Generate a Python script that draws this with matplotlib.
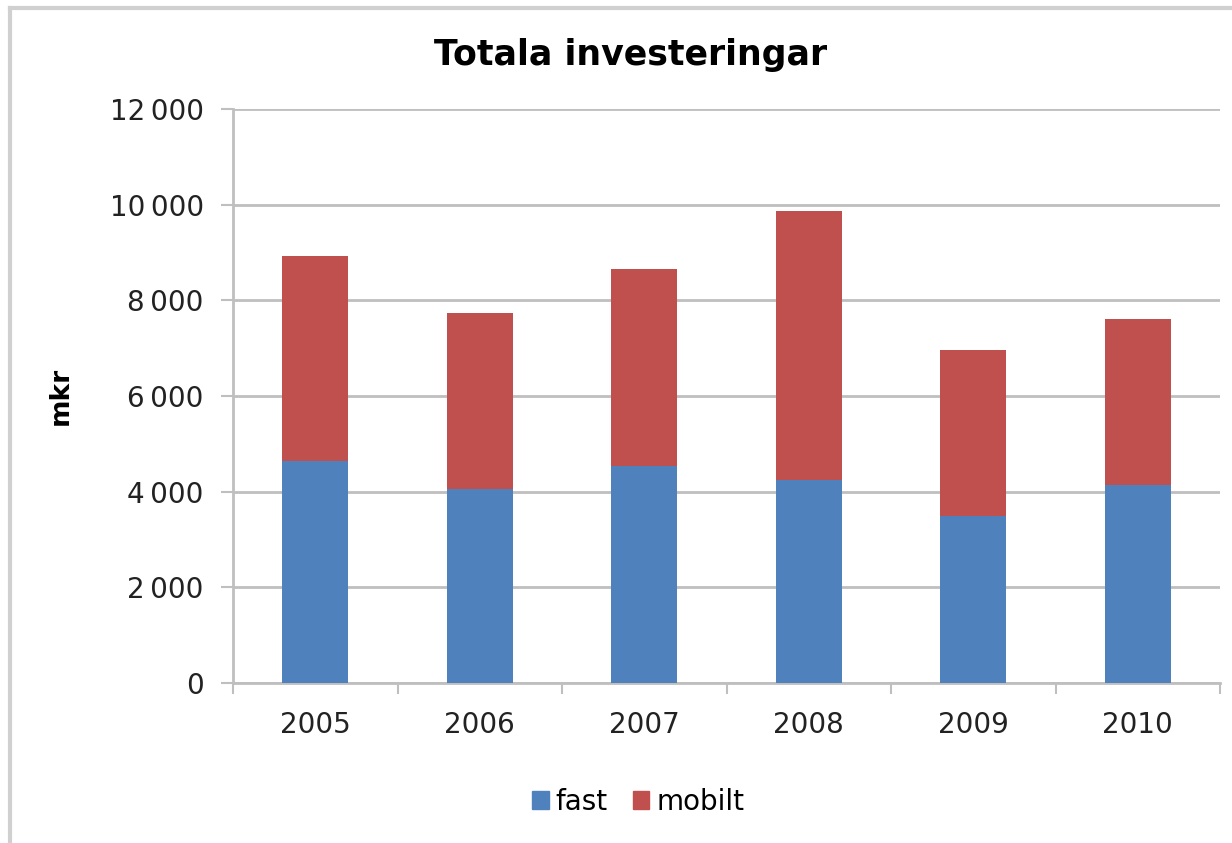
import matplotlib.pyplot as plt
from matplotlib.ticker import FuncFormatter
from matplotlib.lines import Line2D
from matplotlib.patches import Patch

years = ["2005", "2006", "2007", "2008", "2009", "2010"]
fast = [4650, 4050, 4530, 4240, 3490, 4140]
mobilt = [4280, 3680, 4120, 5630, 3470, 3480]

blue = "#4f81bd"
red = "#c0504d"
grid_c = "#bfbfbf"

fig = plt.figure(figsize=(12.32, 8.43), dpi=100)
ax = fig.add_axes([233 / 1232, 1 - 683 / 843, (1220 - 233) / 1232, (683 - 109) / 843])

x = range(len(years))
ax.bar(x, fast, width=0.4, color=blue, zorder=3, label="fast")
ax.bar(x, mobilt, width=0.4, bottom=fast, color=red, zorder=3, label="mobilt")

ax.set_xlim(-0.5, len(years) - 0.5)
ax.set_ylim(0, 12000)
ax.set_yticks(range(0, 12001, 2000))
ax.yaxis.set_major_formatter(FuncFormatter(lambda v, p: f"{int(v):,}".replace(",", "\u2009")))
ax.yaxis.grid(True, color=grid_c, linewidth=2, zorder=0)

ax.set_xticks(list(x))
ax.set_xticklabels(years)
ax.set_xticks([i - 0.5 for i in range(len(years) + 1)], minor=True)
ax.tick_params(axis="x", which="major", length=0, pad=20, labelsize=20, labelcolor="#222222")
ax.tick_params(axis="x", which="minor", length=8, width=1.5, color=grid_c, direction="out")
ax.tick_params(axis="y", length=9, width=1.5, color=grid_c, pad=12, labelsize=20,
               labelcolor="#222222")

for s in ["top", "right"]:
    ax.spines[s].set_visible(False)
for s in ["left", "bottom"]:
    ax.spines[s].set_color(grid_c)
    ax.spines[s].set_linewidth(2)

ax.set_ylabel("mkr", fontsize=19, fontweight="bold", labelpad=26)
fig.text(0.512, 1 - 55 / 843, "Totala investeringar", ha="center", va="center",
         fontsize=25, fontweight="bold")

handles = [Patch(color=blue, label="fast"), Patch(color=red, label="mobilt")]
fig.legend(handles=handles, loc="center", bbox_to_anchor=(0.518, 1 - 802 / 843), ncol=2,
           frameon=False, fontsize=20, handlelength=0.6, handleheight=0.6,
           handletextpad=0.25, columnspacing=0.9)

# outer chart border (left and top visible)
fig.add_artist(Line2D([10 / 1232, 10 / 1232], [0, 1 - 8 / 843], color="#d0d0d0", linewidth=3))
fig.add_artist(Line2D([10 / 1232, 1], [1 - 8 / 843, 1 - 8 / 843], color="#d0d0d0", linewidth=3))

fig.savefig("out.png", dpi=100)
